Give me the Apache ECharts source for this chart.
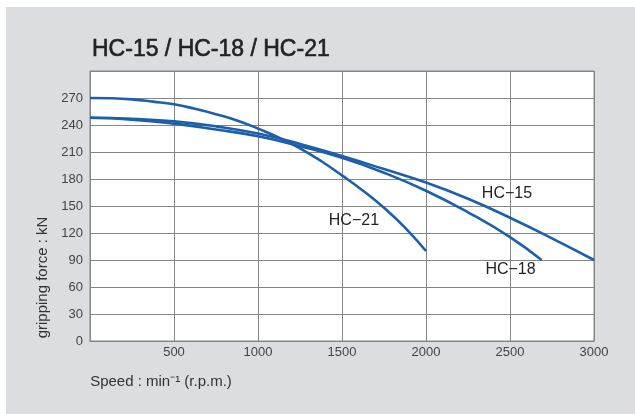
<!DOCTYPE html>
<html>
<head>
<meta charset="utf-8">
<script src="https://cdn.jsdelivr.net/npm/echarts@6/dist/echarts.min.js"></script>
<style>
html,body{margin:0;padding:0;background:#fff;}
#c{width:635px;height:414px;}
</style>
</head>
<body>
<div id="c"></div>
<script>
const titleText = 'HC-15 / HC-18 / HC-21';
const xTicks = [0, 500, 1000, 1500, 2000, 2500, 3000];
const yTicks = [0, 30, 60, 90, 120, 150, 180, 210, 240, 270];
const seriesNames = ['HC\u221215', 'HC\u221218', 'HC\u221221'];
const hc15 = [[0,248],[250,247],[500,244],[750,238.5],[1000,230.5],[1250,219],[1500,205.5],[1750,191],[2000,176],[2250,158],[2500,137],[2750,114],[3000,90]];
const hc18 = [[0,248],[250,246],[500,241.5],[750,235],[1000,227.5],[1250,216.5],[1500,203.5],[1750,187],[2000,167],[2250,143],[2500,115.5],[2688,90]];
const hc21 = [[0,270],[125,269.7],[250,268.5],[375,266],[500,263],[625,258],[750,252],[875,245],[1000,236],[1125,226],[1250,214],[1375,200],[1500,184],[1625,167],[1750,148],[1875,126],[2000,100]];
const labelPos = [[2482,164],[2503,79],[1571,134]];

const blue = '#1c5fab';
const gridColor = '#858585';
const dataSets = [hc15, hc18, hc21];

const chart = echarts.init(document.getElementById('c'));
chart.setOption({
  backgroundColor: '#dcdde0',
  animation: false,
  graphic: [
    {type:'rect', left:0, top:0, shape:{width:635, height:7}, style:{fill:'#fff'}, silent:true},
    {type:'rect', left:0, top:0, shape:{width:6, height:414}, style:{fill:'#fff'}, silent:true}
  ],
  title: {
    text: titleText,
    left: 87, top: 33,
    textStyle: {fontFamily: 'Liberation Sans, Arial, sans-serif', fontSize: 23, fontWeight: 'normal', color: '#222', textBorderColor: '#222', textBorderWidth: 0.6}
  },
  grid: {left: 90, right: 41, top: 71, bottom: 73, show: true, backgroundColor: '#fff', borderColor: gridColor, borderWidth: 1},
  xAxis: {
    type: 'value', min: 0, max: 3000, interval: 500,
    name: 'Speed : min\u207B\u00B9 (r.p.m.)',
    nameLocation: 'middle', nameGap: 33,
    nameTextStyle: {fontFamily: 'Liberation Sans, sans-serif', fontSize: 15, color: '#333', padding: [0, 362, 0, 0]},
    axisLine: {show: true, lineStyle: {color: gridColor}},
    axisTick: {show: false},
    splitLine: {show: true, lineStyle: {color: gridColor, width: 1}},
    axisLabel: {
      fontFamily: 'Liberation Sans, sans-serif', fontSize: 13, color: '#444', margin: 5,
      formatter: v => (v === 0 ? '' : (xTicks.indexOf(v) >= 0 ? String(v) : ''))
    }
  },
  yAxis: {
    type: 'value', min: 0, max: 300, interval: 30,
    name: 'gripping force : kN',
    nameLocation: 'middle', nameGap: 36,
    nameTextStyle: {fontFamily: 'Liberation Sans, sans-serif', fontSize: 15, color: '#333', padding: [0, 143, 0, 0]},
    axisLine: {show: true, lineStyle: {color: gridColor}},
    axisTick: {show: false},
    splitLine: {show: true, lineStyle: {color: gridColor, width: 1}},
    axisLabel: {
      fontFamily: 'Liberation Sans, sans-serif', fontSize: 13, color: '#444', margin: 7,
      formatter: v => (yTicks.indexOf(v) >= 0 ? String(v) : '')
    }
  },
  series: dataSets.map((d, i) => ({
    type: 'line', name: seriesNames[i], data: d, smooth: true, showSymbol: false,
    lineStyle: {color: blue, width: 2.6}, itemStyle: {color: blue},
    markPoint: {
      symbol: 'circle', symbolSize: 0,
      label: {show: true, position: 'inside', formatter: seriesNames[i], fontFamily: 'Liberation Sans, sans-serif', fontSize: 16, color: '#222'},
      data: [{coord: labelPos[i]}]
    }
  }))
});
</script>
</body>
</html>
